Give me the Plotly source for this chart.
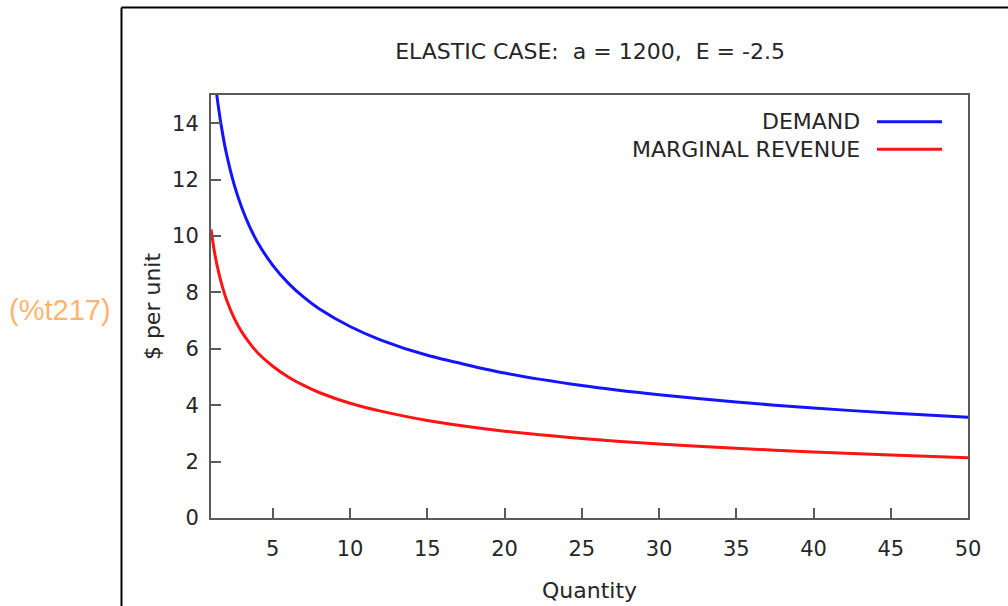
import plotly.graph_objects as go

# Quantity sampled along the curves
quantity = [1, 1.25, 1.5, 1.75, 2, 2.5, 3, 3.5, 4, 5, 6, 7, 8, 10, 12, 15,
            20, 25, 30, 35, 40, 45, 50]

# Price on the demand curve ($ per unit)
demand = [17.05, 15.59, 14.50, 13.63, 12.92, 11.82, 10.99, 10.33, 9.79, 8.96,
          8.33, 7.83, 7.42, 6.79, 6.31, 5.77, 5.14, 4.70, 4.37, 4.11, 3.90,
          3.72, 3.57]

# Marginal revenue ($ per unit)
marginal_revenue = [10.23, 9.35, 8.70, 8.18, 7.75, 7.09, 6.59, 6.20, 5.87,
                    5.38, 5.00, 4.70, 4.45, 4.07, 3.79, 3.46, 3.08, 2.82,
                    2.62, 2.47, 2.34, 2.23, 2.14]

series_names = ["DEMAND", "MARGINAL REVENUE"]
series_colors = ["#1414ff", "#ff1414"]

x_ticks = [5, 10, 15, 20, 25, 30, 35, 40, 45, 50]
y_ticks = [0, 2, 4, 6, 8, 10, 12, 14]

FONT = "DejaVu Sans"
TEXT = "#262626"
FRAME = "#5a5a5a"

fig = go.Figure()
for name, values, color in zip(series_names, [demand, marginal_revenue], series_colors):
    fig.add_trace(go.Scatter(
        x=quantity, y=values, name=name, mode="lines",
        line=dict(color=color, width=3, shape="spline", smoothing=0.6),
        showlegend=False, hoverinfo="skip",
    ))

W, H = 1008, 606
L, R, T, B = 211, 40, 95, 88
pw, ph = W - L - R, H - T - B


def px_x(v):
    return (v - L) / pw


def px_y(v):
    return (H - B - v) / ph


# key drawn to the right of its labels
key_rows = [121.7, 149.3]
shapes = []
annotations = []
for name, color, ypix in zip(series_names, series_colors, key_rows):
    annotations.append(dict(
        x=px_x(862), y=px_y(ypix), xref="paper", yref="paper",
        text=name, showarrow=False, xanchor="right", yanchor="middle",
        font=dict(family=FONT, size=22, color=TEXT),
    ))
    shapes.append(dict(
        type="line", xref="paper", yref="paper",
        x0=px_x(877), x1=px_x(942), y0=px_y(ypix), y1=px_y(ypix),
        line=dict(color=color, width=3),
    ))

# output cell border (left and top rules)
shapes.append(dict(type="line", xref="paper", yref="paper",
                   x0=px_x(121.5), x1=px_x(121.5), y0=px_y(7.5), y1=px_y(620),
                   line=dict(color="black", width=2)))
shapes.append(dict(type="line", xref="paper", yref="paper",
                   x0=px_x(121.5), x1=px_x(1020), y0=px_y(7.5), y1=px_y(7.5),
                   line=dict(color="black", width=2)))

# cell label
annotations.append(dict(
    x=px_x(60), y=px_y(310), xref="paper", yref="paper",
    text="(%t217)", showarrow=False, xanchor="center", yanchor="middle",
    font=dict(family="Liberation Sans", size=29, color="#ffb46e"),
))

axis_common = dict(
    showline=True, linecolor=FRAME, linewidth=2, mirror=True,
    ticks="inside", ticklen=10, tickwidth=1.5, tickcolor=FRAME,
    showgrid=False, zeroline=False, automargin=False,
    tickfont=dict(family=FONT, size=21, color=TEXT),
)

fig.update_layout(
    width=W, height=H,
    margin=dict(l=L, r=R, t=T, b=B, pad=0),
    paper_bgcolor="white", plot_bgcolor="white",
    title=dict(text="ELASTIC CASE:  a = 1200,  E = -2.5",
               xref="paper", x=px_x(590), xanchor="center",
               yref="container", y=1 - 51 / H, yanchor="middle",
               font=dict(family=FONT, size=22, color=TEXT)),
    xaxis=dict(range=[1, 50], tickvals=x_ticks, ticklabelstandoff=11,
               title=dict(text="Quantity", standoff=22,
                          font=dict(family=FONT, size=22, color=TEXT)),
               **axis_common),
    yaxis=dict(range=[0, 15], tickvals=y_ticks, ticklabelstandoff=6,
               title=dict(text="$ per unit", standoff=5,
                          font=dict(family=FONT, size=22, color=TEXT)),
               **axis_common),
    shapes=shapes,
    annotations=annotations,
)

fig.write_html("out.html")
